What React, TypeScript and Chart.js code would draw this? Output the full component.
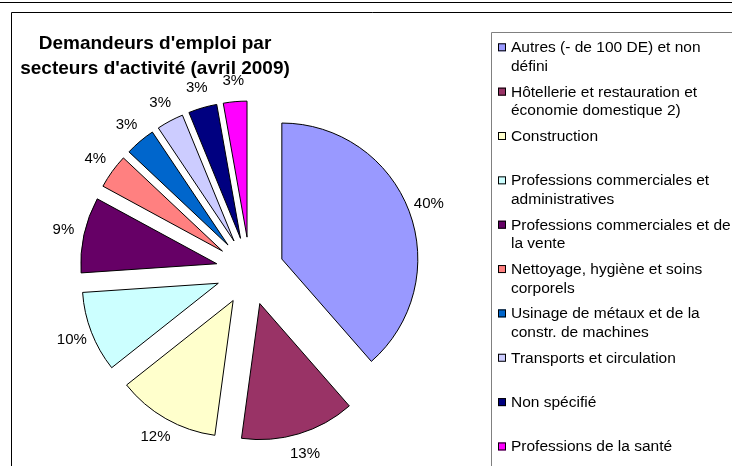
import React, { useEffect, useRef } from "react";
import { Chart, registerables } from "chart.js";

Chart.register(...registerables);

const chartTitle = ["Demandeurs d'emploi par", "secteurs d'activité (avril 2009)"];

const categories = [
  "Autres (- de 100 DE) et non défini",
  "Hôtellerie et restauration et économie domestique 2)",
  "Construction",
  "Professions commerciales et administratives",
  "Professions commerciales et de la vente",
  "Nettoyage, hygiène et soins corporels",
  "Usinage de métaux et de la constr. de machines",
  "Transports et circulation",
  "Non spécifié",
  "Professions de la santé",
];

const values = [38.6, 13.6, 12.2, 9.6, 9.0, 4.1, 3.6, 3.2, 3.4, 2.8];

const percentLabels = ["40%", "13%", "12%", "10%", "9%", "4%", "3%", "3%", "3%", "3%"];

const colors = [
  "#9999FF",
  "#993366",
  "#FFFFCC",
  "#CCFFFF",
  "#660066",
  "#FF8080",
  "#0066CC",
  "#CCCCFF",
  "#000080",
  "#FF00FF",
];

const FONT = '"Liberation Sans", Arial, sans-serif';
const EXPLODE = 34;

const explodePlugin = {
  id: "explode",
  afterDatasetUpdate(chart: any, args: any) {
    const meta = args.meta;
    meta.data.forEach((arc: any) => {
      const mid = (arc.startAngle + arc.endAngle) / 2;
      arc.x += Math.cos(mid) * EXPLODE;
      arc.y += Math.sin(mid) * EXPLODE;
    });
  },
};

function wrapText(ctx: CanvasRenderingContext2D, text: string, maxWidth: number): string[] {
  const words = text.split(" ");
  const lines: string[] = [];
  let line = "";
  for (const w of words) {
    const test = line ? line + " " + w : w;
    if (line && ctx.measureText(test).width > maxWidth) {
      lines.push(line);
      line = w;
    } else {
      line = test;
    }
  }
  if (line) lines.push(line);
  return lines;
}

const decorPlugin = {
  id: "decor",
  beforeDraw(chart: any) {
    const ctx: CanvasRenderingContext2D = chart.ctx;
    const W = chart.width;
    const H = chart.height;
    ctx.save();
    ctx.fillStyle = "#ffffff";
    ctx.fillRect(0, 0, W, H);
    ctx.strokeStyle = "#000000";
    ctx.lineWidth = 1;
    // top rule
    ctx.beginPath();
    ctx.moveTo(0, 2.5);
    ctx.lineTo(W, 2.5);
    ctx.stroke();
    // chart frame
    ctx.beginPath();
    ctx.moveTo(11.5, H + 2);
    ctx.lineTo(11.5, 12.5);
    ctx.lineTo(W + 2, 12.5);
    ctx.stroke();
    // legend box
    ctx.strokeStyle = "#808080";
    ctx.beginPath();
    ctx.moveTo(491.5, H + 2);
    ctx.lineTo(491.5, 32.5);
    ctx.lineTo(W + 2, 32.5);
    ctx.stroke();
    ctx.restore();
  },
  afterDatasetsDraw(chart: any) {
    const ctx: CanvasRenderingContext2D = chart.ctx;
    const meta = chart.getDatasetMeta(0);
    ctx.save();
    ctx.fillStyle = "#000000";
    ctx.font = `15px ${FONT}`;
    ctx.textAlign = "center";
    ctx.textBaseline = "middle";
    meta.data.forEach((arc: any, i: number) => {
      const mid = (arc.startAngle + arc.endAngle) / 2;
      const r = arc.outerRadius + 21;
      ctx.fillText(percentLabels[i], arc.x + Math.cos(mid) * r, arc.y + Math.sin(mid) * r);
    });
    ctx.restore();
  },
  afterDraw(chart: any) {
    const ctx: CanvasRenderingContext2D = chart.ctx;
    ctx.save();
    // title
    ctx.fillStyle = "#000000";
    ctx.font = `bold 19px ${FONT}`;
    ctx.textAlign = "center";
    ctx.textBaseline = "alphabetic";
    ctx.fillText(chartTitle[0], 155, 49);
    ctx.fillText(chartTitle[1], 155, 73.5);

    // legend
    ctx.font = `15.5px ${FONT}`;
    ctx.textAlign = "left";
    const step = 44.35;
    categories.forEach((cat, i) => {
      const base = 52.3 + i * step;
      ctx.fillStyle = colors[i];
      ctx.fillRect(498, base - 9, 8, 8);
      ctx.strokeStyle = "#000000";
      ctx.lineWidth = 1;
      ctx.strokeRect(498.5, base - 8.5, 7, 7);
      ctx.fillStyle = "#000000";
      const lines = wrapText(ctx, cat, 225);
      lines.forEach((ln, k) => {
        ctx.fillText(ln, 511, base + k * 18.5);
      });
    });
    ctx.restore();
  },
};

export default function App() {
  const canvasRef = useRef<HTMLCanvasElement | null>(null);

  useEffect(() => {
    const canvas = canvasRef.current;
    if (!canvas) return;
    const chart = new Chart(canvas, {
      type: "pie",
      data: {
        labels: categories,
        datasets: [
          {
            data: values,
            backgroundColor: colors,
            borderColor: "#000000",
            borderWidth: 1,
            borderJoinStyle: "miter",
            hoverOffset: 0,
            radius: 136,
          } as any,
        ],
      },
      options: {
        responsive: false,
        animation: false,
        devicePixelRatio: 1,
        events: [],
        layout: { padding: { left: 20, right: 252, top: 90, bottom: 14 } },
        plugins: {
          legend: { display: false },
          title: { display: false },
          tooltip: { enabled: false },
        },
      } as any,
      plugins: [explodePlugin, decorPlugin],
    });
    return () => {
      chart.destroy();
    };
  }, []);

  return (
    <div style={{ position: "absolute", left: 0, top: 0, width: 732, height: 466, background: "#fff" }}>
      <canvas ref={canvasRef} width={732} height={466} style={{ display: "block", width: 732, height: 466 }} />
    </div>
  );
}
